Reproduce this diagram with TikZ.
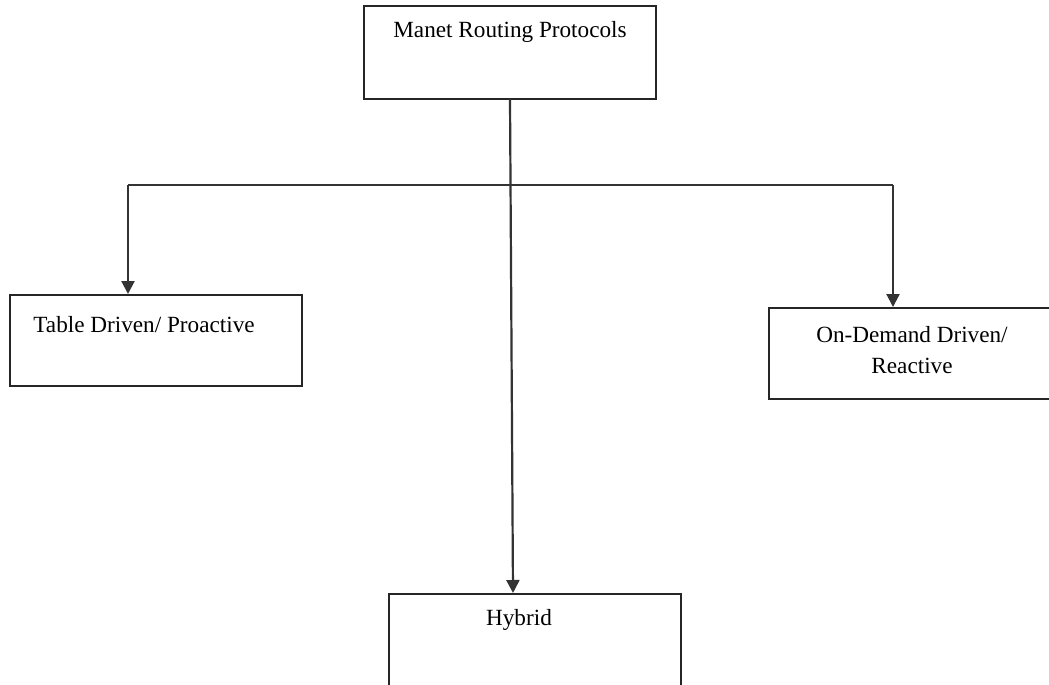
\documentclass[tikz,border=0pt]{standalone}
\usepackage{fontspec}
\setmainfont{Liberation Serif}
\usetikzlibrary{arrows.meta}
\begin{document}
\begin{tikzpicture}[x=0.5pt,y=-0.5pt,
  box/.style={draw=black!85, line width=1pt, inner sep=0pt},
  lbl/.style={font=\fontsize{11.6}{15.5}\selectfont, text=black, inner sep=0pt, align=center},
  conn/.style={draw=black!80, line width=1.1pt},
  arr/.style={conn, -{Triangle[length=6.5pt,width=6.5pt]}}]
\useasboundingbox (0,0) rectangle (1049,685);
% boxes
\node[box, minimum width=146pt, minimum height=46.5pt] (top) at (510,52.5) {};
\node[box, minimum width=146pt, minimum height=45.5pt] (left) at (156,340.5) {};
\node[box, minimum width=160pt, minimum height=45.5pt, anchor=north west] (right) at (768,307) {};
\node[box, minimum width=146pt, minimum height=60pt, anchor=north west] (hyb) at (388,593) {};
% labels
\node[lbl] (tt) at (510,32) {Manet Routing Protocols};
\node[lbl, anchor=west] (lt) at (33,325) {Table Driven/ Proactive};
\node[lbl] (rt) at (912,350) {On-Demand Driven/\\Reactive};
\node[lbl] (ht) at (519,620) {Hybrid};
% connectors
\coordinate (hl) at (128,185);
\coordinate (hr) at (893,185);
\draw[conn] (hl) -- (hr);
\draw[arr] (hl) -- (hl |- left.north);
\draw[arr] (hr) -- (hr |- right.north);
\coordinate (hb) at (513,593);
\draw[arr] (510,99) -- (hb);
\end{tikzpicture}
\end{document}
